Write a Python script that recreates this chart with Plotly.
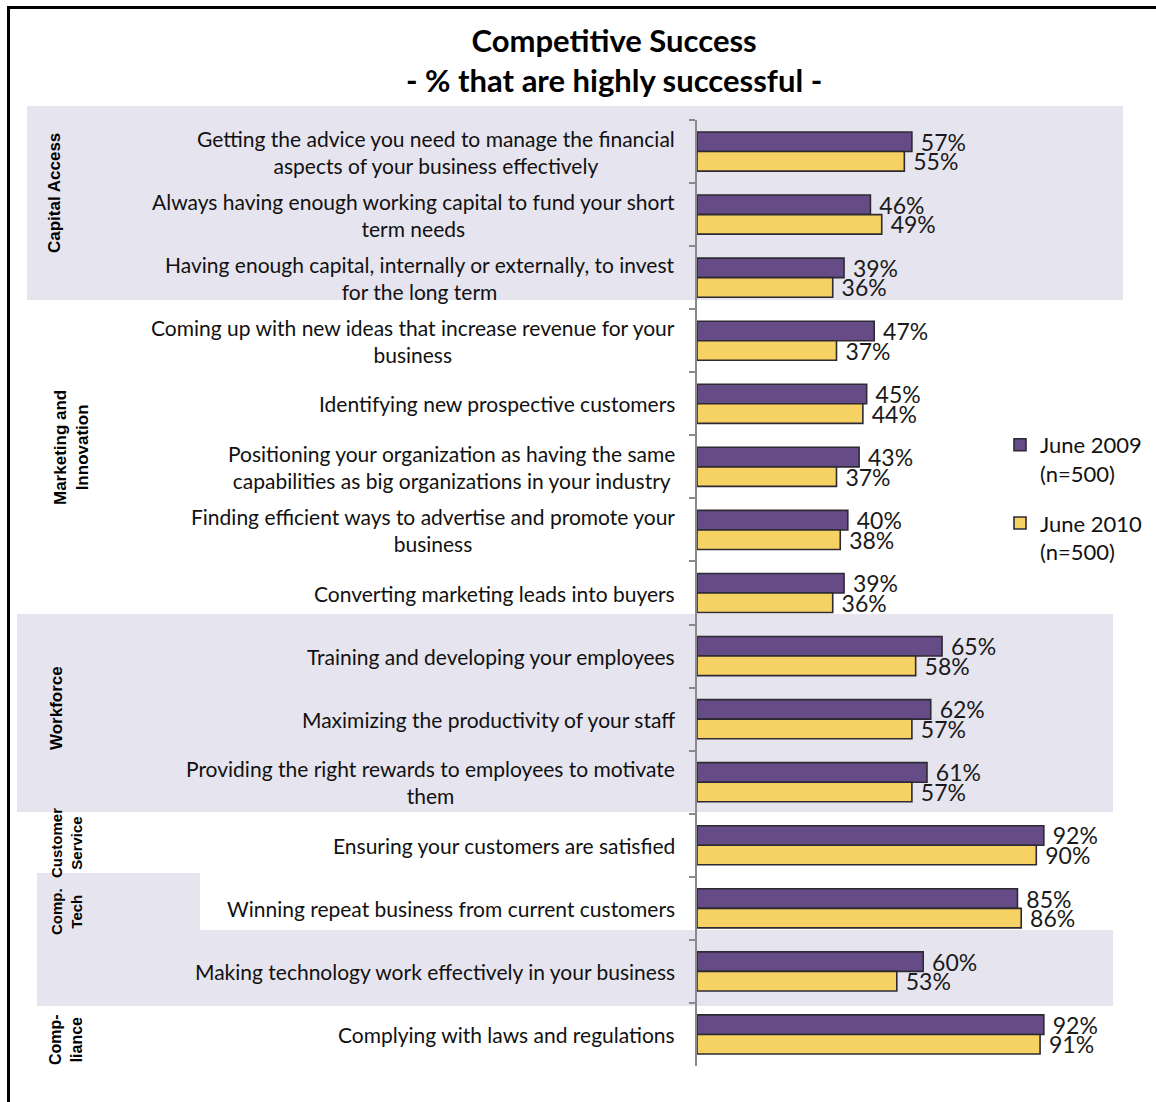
import plotly.graph_objects as go

W, H = 1156, 1102

# Survey items, top to bottom
items = [
    "Getting the advice you need to manage the financial<br>aspects of your business effectively",
    "Always having enough working capital to fund your short<br>term needs",
    "Having enough capital, internally or externally, to invest<br>for the long term",
    "Coming up with new ideas that increase revenue for your<br>business",
    "Identifying new prospective customers",
    "Positioning your organization as having the same<br>capabilities as big organizations in your industry",
    "Finding efficient ways to advertise and promote your<br>business",
    "Converting marketing leads into buyers",
    "Training and developing your employees",
    "Maximizing the productivity of your staff",
    "Providing the right rewards to employees to motivate<br>them",
    "Ensuring your customers are satisfied",
    "Winning repeat business from current customers",
    "Making technology work effectively in your business",
    "Complying with laws and regulations",
]

june_2009 = [57, 46, 39, 47, 45, 43, 40, 39, 65, 62, 61, 92, 85, 60, 92]
june_2010 = [55, 49, 36, 37, 44, 37, 38, 36, 58, 57, 57, 90, 86, 53, 91]

series_names = ["June 2009<br>(n=500)", "June 2010<br>(n=500)"]

group_labels = [
    "Capital Access",
    "Marketing and<br>Innovation",
    "Workforce",
    "Customer<br>Service",
    "Comp.<br>Tech",
    "Comp-<br>liance",
]

title_text = "<b>Competitive Success</b><br><b>- % that are highly successful -</b>"


def px_x(p):
    return p / W


def px_y(p):
    return 1 - p / H


PURPLE = "#664c87"
YELLOW = "#f6d163"
EDGE = "#2e2a33"
BAND = "#e6e4ee"
LABEL_FONT = "Lato"

fig = go.Figure()

for vals, name, color, grp in [
    (june_2009, series_names[0], PURPLE, "a"),
    (june_2010, series_names[1], YELLOW, "b"),
]:
    fig.add_trace(go.Bar(
        y=items,
        x=vals,
        orientation="h",
        name=name,
        legendgroup=grp,
        marker=dict(color=color, line=dict(color=EDGE, width=1.6)),
        text=[f"{v}%" for v in vals],
        texttemplate=" %{text}",
        textposition="outside",
        constraintext="none",
        cliponaxis=False,
        textfont=dict(family=LABEL_FONT, size=23, color="#1a1a1a"),
        hoverinfo="skip",
    ))

shapes = []


def band(x0, y0, x1, y1):
    shapes.append(dict(
        type="rect", xref="paper", yref="paper", layer="below",
        x0=px_x(x0), x1=px_x(x1), y0=px_y(y1), y1=px_y(y0),
        fillcolor=BAND, line=dict(width=0),
    ))


# shaded section backgrounds
band(27, 106, 1123, 300)
band(17, 614, 1113, 812)
band(37, 930, 1113, 1006)
band(37, 873, 200, 930)

# outer frame (left and top edges)
shapes.append(dict(type="line", xref="paper", yref="paper",
                   x0=px_x(8.5), x1=px_x(8.5), y0=0, y1=px_y(7.5),
                   line=dict(color="black", width=3)))
shapes.append(dict(type="line", xref="paper", yref="paper",
                   x0=px_x(7), x1=1, y0=px_y(7.5), y1=px_y(7.5),
                   line=dict(color="black", width=3)))

annotations = []

# item labels, right-aligned block with centered lines
for it in items:
    annotations.append(dict(
        x=px_x(677), xref="paper", y=it, yref="y",
        xanchor="right", yanchor="middle", align="center",
        text=it, showarrow=False,
        font=dict(family=LABEL_FONT, size=21, color="#111111"),
    ))

# section labels (rotated): position and size
group_pos = [(55, 193, 17), (71, 448, 17), (56, 708, 17),
             (66, 843, 15), (66, 912, 15), (66, 1040, 16)]
for lab, (gx, gy, fs) in zip(group_labels, group_pos):
    annotations.append(dict(
        x=px_x(gx), y=px_y(gy), xref="paper", yref="paper",
        xanchor="center", yanchor="middle", align="center",
        text=f"<b>{lab}</b>", textangle=-90, showarrow=False,
        font=dict(family="Liberation Sans", size=fs, color="black"),
    ))

# title
annotations.append(dict(
    x=px_x(614), y=px_y(60), xref="paper", yref="paper",
    xanchor="center", yanchor="middle", align="center",
    text=title_text, showarrow=False,
    font=dict(family=LABEL_FONT, size=31, color="black"),
))

fig.update_layout(
    width=W, height=H,
    margin=dict(l=0, r=0, t=0, b=0),
    paper_bgcolor="white",
    plot_bgcolor="rgba(0,0,0,0)",
    barmode="group",
    bargap=0.38,
    bargroupgap=0.0,
    showlegend=True,
    legend=dict(
        x=px_x(1000), y=px_y(424), xanchor="left", yanchor="top",
        bgcolor="rgba(0,0,0,0)",
        font=dict(family=LABEL_FONT, size=22, color="#111111"),
        valign="top", tracegroupgap=18, itemwidth=30,
    ),
    xaxis=dict(
        domain=[px_x(697), px_x(1074)], range=[0, 100],
        visible=False, showgrid=False, zeroline=False, fixedrange=True,
    ),
    yaxis=dict(
        domain=[px_y(1066), px_y(120)],
        autorange="reversed", type="category",
        showticklabels=False, showgrid=False, zeroline=False,
        showline=True, linecolor="#8a8a8a", linewidth=2,
        ticks="outside", ticklen=6, tickcolor="#8a8a8a", tickwidth=2,
        tickson="boundaries",
    ),
    shapes=shapes,
    annotations=annotations,
)

fig.write_html("out.html")
